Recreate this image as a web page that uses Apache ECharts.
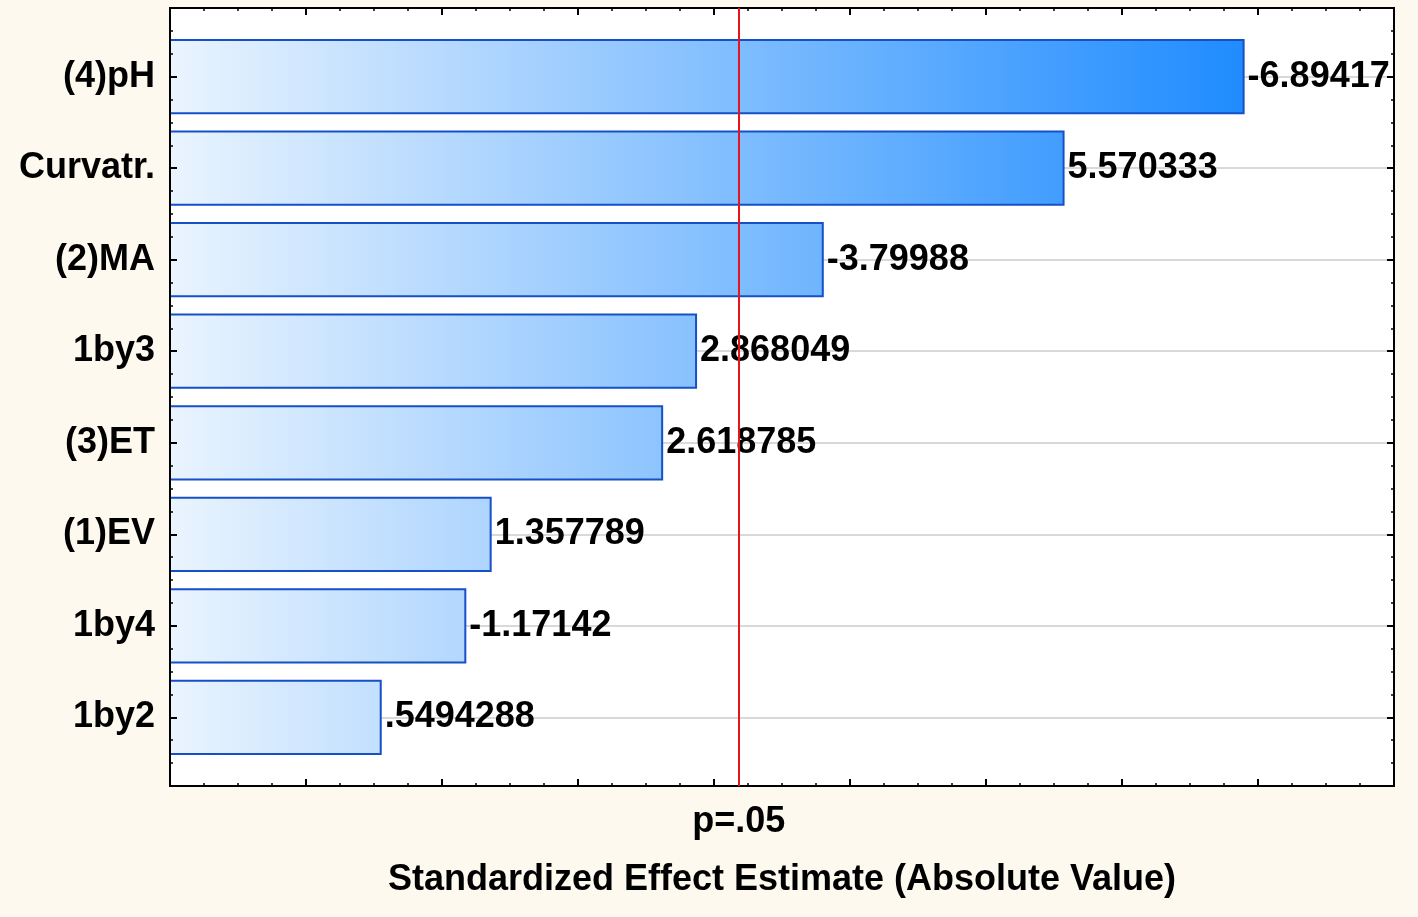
<!DOCTYPE html>
<html>
<head>
<meta charset="utf-8">
<script src="https://cdn.jsdelivr.net/npm/echarts@6/dist/echarts.min.js"></script>
<style>
  html, body { margin: 0; padding: 0; background: #fdf9ef; }
  #chart { width: 1418px; height: 917px; }
</style>
</head>
<body>
<div id="chart"></div>
<script>
// effects, sorted by absolute value
const categories = ['(4)pH', 'Curvatr.', '(2)MA', '1by3', '(3)ET', '(1)EV', '1by4', '1by2'];
const effects = [-6.89417, 5.570333, -3.79988, 2.868049, 2.618785, 1.357789, -1.17142, 0.5494288];
const pCrit = 3.182;   // t critical value, p=.05
const xTicks = { min: -1, max: 8, step: 1 };

const FONT = "'Liberation Sans', Arial, sans-serif";
const chart = echarts.init(document.getElementById('chart'));

const barData = effects.map((v, i) => [Math.abs(v), i + 1, v]);
const catPos = categories.map((c, i) => i + 1);

function fmtEffect(v) {
  return String(v).replace(/^(-?)0\./, '$1.');
}

const barFill = new echarts.graphic.LinearGradient(170, 0, 1250, 0, [
  { offset: 0, color: '#eaf4fe' },
  { offset: 1, color: '#1e8bff' }
], true);

function yAxisBase(pos) {
  return {
    type: 'value',
    position: pos,
    inverse: true,
    min: 0.25,
    max: 8.75,
    axisLine: { show: false, onZero: false },
    splitLine: { show: false },
    axisLabel: { show: false }
  };
}

const option = {
  backgroundColor: '#fdf9ef',
  animation: false,
  grid: {
    left: 170, right: 24, top: 8, bottom: 131,
    show: true,
    backgroundColor: '#ffffff',
    borderColor: '#000',
    borderWidth: 2
  },
  xAxis: [{
    type: 'value',
    position: 'bottom',
    min: xTicks.min,
    max: xTicks.max,
    interval: xTicks.step,
    axisLine: { show: true, onZero: false, lineStyle: { color: '#000', width: 2 } },
    axisTick: { show: true, inside: true, length: 7, lineStyle: { color: '#000', width: 2 } },
    minorTick: { show: true, splitNumber: 4, length: 3, lineStyle: { color: '#000', width: 1.5 } },
    splitLine: { show: false },
    axisLabel: {
      customValues: [pCrit],
      formatter: () => 'p=.05',
      margin: 18,
      color: '#000',
      fontFamily: FONT,
      fontWeight: 'bold',
      fontSize: 36
    },
    name: 'Standardized Effect Estimate (Absolute Value)',
    nameLocation: 'middle',
    nameGap: 76,
    nameTextStyle: { color: '#000', fontFamily: FONT, fontWeight: 'bold', fontSize: 36 }
  }, {
    type: 'value',
    position: 'top',
    min: xTicks.min,
    max: xTicks.max,
    interval: xTicks.step,
    axisLine: { show: true, onZero: false, lineStyle: { color: '#000', width: 2 } },
    axisTick: { show: true, inside: true, length: 7, lineStyle: { color: '#000', width: 2 } },
    minorTick: { show: true, splitNumber: 4, length: 3, lineStyle: { color: '#000', width: 1.5 } },
    splitLine: { show: false },
    axisLabel: { show: false }
  }],
  yAxis: [
    Object.assign(yAxisBase('left'), {
      z: 5,
      axisLine: { show: true, onZero: false, lineStyle: { color: '#000', width: 2 } },
      axisTick: { show: true, inside: true, length: 7, customValues: catPos, lineStyle: { color: '#000', width: 2 } },
      axisLabel: {
        show: true,
        customValues: catPos,
        formatter: v => categories[Math.round(v) - 1],
        margin: 15,
        color: '#000',
        fontFamily: FONT,
        fontWeight: 'bold',
        fontSize: 36
      }
    }),
    Object.assign(yAxisBase('left'), {
      z: 5,
      interval: 0.25,
      axisTick: { show: true, inside: true, length: 3, lineStyle: { color: '#000', width: 1.5 } }
    }),
    Object.assign(yAxisBase('right'), {
      axisLine: { show: true, onZero: false, lineStyle: { color: '#000', width: 2 } },
      axisTick: { show: true, inside: true, length: 7, customValues: catPos, lineStyle: { color: '#000', width: 2 } },
      splitLine: { show: true, lineStyle: { color: '#d9d9d9', width: 2 } }
    }),
    Object.assign(yAxisBase('right'), {
      interval: 0.25,
      axisTick: { show: true, inside: true, length: 3, lineStyle: { color: '#000', width: 1.5 } }
    })
  ],
  series: [{
    type: 'custom',
    coordinateSystem: 'cartesian2d',
    xAxisIndex: 0,
    yAxisIndex: 0,
    encode: { x: 0, y: 1 },
    data: barData,
    clip: false,
    renderItem: function (params, api) {
      const start = api.coord([xTicks.min, api.value(1)]);
      const end = api.coord([api.value(0), api.value(1)]);
      const h = api.size([0, 0.8])[1];
      return {
        type: 'rect',
        shape: { x: start[0], y: end[1] - h / 2, width: end[0] - start[0], height: h },
        style: { fill: barFill, stroke: '#1550c8', lineWidth: 2 },
        textContent: {
          style: {
            text: fmtEffect(api.value(2)),
            fill: '#000',
            fontFamily: FONT,
            fontWeight: 'bold',
            fontSize: 36
          }
        },
        textConfig: { position: 'right', distance: 3 }
      };
    },
    markLine: {
      silent: true,
      symbol: 'none',
      label: { show: false },
      lineStyle: { color: '#e8141c', width: 2, type: 'solid' },
      data: [{ xAxis: pCrit }]
    },
    z: 3
  }]
};

chart.setOption(option);
</script>
</body>
</html>
